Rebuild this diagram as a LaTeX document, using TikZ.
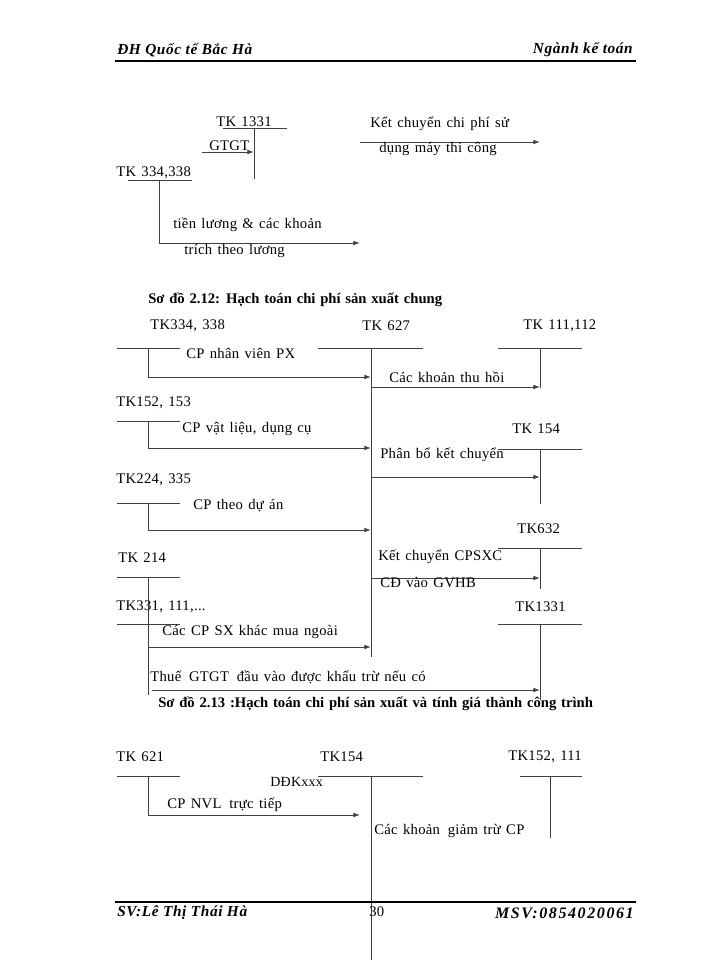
\documentclass[tikz,border=0pt]{standalone}
\usepackage{fontspec}
\setmainfont{Liberation Serif}
\newfontfamily\bodyfont[WordSpace=1.35,LetterSpace=2]{Liberation Serif}
\newfontfamily\titlefont[WordSpace=1.3]{Liberation Serif}
\newfontfamily\headfont[LetterSpace=4]{Liberation Serif}
\newfontfamily\numfont[LetterSpace=10]{Liberation Serif}
\usetikzlibrary{arrows.meta}

\begin{document}
\begin{tikzpicture}[x=0.75pt, y=-0.75pt,
    tx/.style={anchor=west, inner sep=0pt, font=\bodyfont\fontsize{11}{13}\selectfont},
    hd/.style={anchor=west, inner sep=0pt, font=\headfont\fontsize{11.5}{13}\selectfont\bfseries\itshape},
    ttl/.style={anchor=west, inner sep=0pt, font=\titlefont\fontsize{11}{13}\selectfont\bfseries},
    ln/.style={draw=black!75, line width=0.75pt},
    ar/.style={ln, -{Latex[length=5pt,width=3.6pt]}},
    rl/.style={line width=1.5pt}
  ]
  \useasboundingbox (0,0) rectangle (700,960);

  % page header
  \node[hd] (hdl) at (117,50) {ĐH Quốc tế Bắc Hà};
  \node[hd, anchor=east] (hdr) at (633,50) {Ngành kế toán};
  \coordinate (hr1) at (115,61);
  \coordinate (hr2) at (636,61);
  \draw[rl] (hr1) -- (hr2);

  % rest of the previous scheme
  \node[tx] (a1331) at (216,122) {TK 1331};
  \coordinate (a1331l) at (223,128);
  \coordinate (a1331r) at (287,128);
  \coordinate (a1331t) at (254,128);
  \coordinate (a1331b) at (254,179);
  \draw[ln] (a1331l) -- (a1331r);
  \draw[ln] (a1331t) -- (a1331b);
  \coordinate (gt0) at (202,152);
  \draw[ar] (gt0) -- (a1331t |- gt0);
  \node[tx] (gtgt) at (209,146) {GTGT};

  \coordinate (kc0) at (360,142);
  \coordinate (kc1) at (540,142);
  \draw[ar] (kc0) -- (kc1);
  \node[tx] (kc) at (370,124) {Kết chuyển chi phí sử};
  \node[tx] (kcb) at (379,149) {dụng máy thi công};

  \node[tx] (a334) at (116,173) {TK 334,338};
  \coordinate (a334l) at (128,180);
  \coordinate (a334r) at (192,180);
  \coordinate (a334t) at (159,180);
  \coordinate (a334b) at (159,243);
  \coordinate (tl1) at (360,243);
  \draw[ln] (a334l) -- (a334r);
  \draw[ln] (a334t) -- (a334b);
  \draw[ar] (a334b) -- (tl1);
  \node[tx] (tl) at (173,225) {tiền lương \& các khoản};
  \node[tx] (tlb) at (184,251) {trích theo lương};

  % scheme 2.12
  \node[ttl] (s212) at (148,300) {Sơ đồ 2.12: Hạch toán chi phí sản xuất chung};

  \node[tx] (b627) at (362,326) {TK 627};
  \coordinate (b627l) at (318,348);
  \coordinate (b627r) at (423,348);
  \coordinate (b627t) at (371,348);
  \coordinate (b627b) at (371,657);
  \draw[ln] (b627l) -- (b627r);
  \draw[ln] (b627t) -- (b627b);

  \node[tx] (b334) at (150,326) {TK334, 338};
  \coordinate (b334l) at (117,348);
  \coordinate (b334r) at (180,348);
  \coordinate (b334t) at (148,348);
  \coordinate (b334b) at (148,377);
  \draw[ln] (b334l) -- (b334r);
  \draw[ln] (b334t) -- (b334b);
  \draw[ar] (b334b) -- (b627t |- b334b);
  \node[tx] (nvpx) at (186,353) {CP nhân viên PX};

  \node[tx] (b152) at (116,403) {TK152, 153};
  \coordinate (b152l) at (117,421);
  \coordinate (b152r) at (180,421);
  \coordinate (b152t) at (148,421);
  \coordinate (b152b) at (148,448);
  \draw[ln] (b152l) -- (b152r);
  \draw[ln] (b152t) -- (b152b);
  \draw[ar] (b152b) -- (b627t |- b152b);
  \node[tx] (vldc) at (182,429) {CP vật liệu, dụng cụ};

  \node[tx] (b224) at (116,480) {TK224, 335};
  \coordinate (b224l) at (117,503);
  \coordinate (b224r) at (180,503);
  \coordinate (b224t) at (148,503);
  \coordinate (b224b) at (148,530);
  \draw[ln] (b224l) -- (b224r);
  \draw[ln] (b224t) -- (b224b);
  \draw[ar] (b224b) -- (b627t |- b224b);
  \node[tx] (tda) at (193,506) {CP theo dự án};

  \node[tx] (b214) at (118,558) {TK 214};
  \coordinate (b214l) at (117,577);
  \coordinate (b214r) at (180,577);
  \coordinate (b214t) at (148,577);
  \draw[ln] (b214l) -- (b214r);

  \node[tx] (b331) at (116,607) {TK331, 111,...};
  \coordinate (b331l) at (117,624);
  \coordinate (b331r) at (180,624);
  \coordinate (b331a) at (148,647);
  \coordinate (b331b) at (148,695);
  \draw[ln] (b331l) -- (b331r);
  \draw[ln] (b214t) -- (b331b);
  \draw[ar] (b331a) -- (b627t |- b331a);
  \node[tx] (mn) at (162,632) {Các CP SX khác mua ngoài};

  \node[tx] (b111) at (523,326) {TK 111,112};
  \coordinate (b111l) at (498,348);
  \coordinate (b111r) at (582,348);
  \coordinate (b111t) at (540,348);
  \coordinate (b111b) at (540,388);
  \draw[ln] (b111l) -- (b111r);
  \draw[ln] (b111t) -- (b111b);
  \coordinate (th0) at (371,387);
  \draw[ar] (th0) -- (b111t |- th0);
  \node[tx] (th) at (389,377) {Các khoản thu hồi};

  \node[tx] (b154) at (512,429) {TK 154};
  \coordinate (b154l) at (498,449);
  \coordinate (b154r) at (582,449);
  \coordinate (b154t) at (540,449);
  \coordinate (b154b) at (540,504);
  \draw[ln] (b154l) -- (b154r);
  \draw[ln] (b154t) -- (b154b);
  \coordinate (pb0) at (371,477);
  \draw[ar] (pb0) -- (b154t |- pb0);
  \node[tx] (pb) at (380,455) {Phân bổ kết chuyển};

  \node[tx] (b632) at (517,529) {TK632};
  \coordinate (b632l) at (498,548);
  \coordinate (b632r) at (582,548);
  \coordinate (b632t) at (540,548);
  \coordinate (b632b) at (540,589);
  \draw[ln] (b632l) -- (b632r);
  \draw[ln] (b632t) -- (b632b);
  \coordinate (kx0) at (371,578);
  \draw[ar] (kx0) -- (b632t |- kx0);
  \node[tx] (kx) at (378,557) {Kết chuyển CPSXC};
  \node[tx] (kxb) at (380,583) {CĐ vào GVHB};

  \node[tx] (b1331) at (515,607) {TK1331};
  \coordinate (b1331l) at (498,624);
  \coordinate (b1331r) at (582,624);
  \coordinate (b1331t) at (540,624);
  \coordinate (b1331b) at (540,700);
  \draw[ln] (b1331l) -- (b1331r);
  \draw[ln] (b1331t) -- (b1331b);
  \coordinate (vat0) at (152,690);
  \draw[ar] (vat0) -- (b1331t |- vat0);
  \node[tx] (vat) at (150,677) {Thuế\,\ GTGT\,\ đầu vào được khấu trừ nếu có};

  % scheme 2.13
  \node[ttl] (s213) at (158,704) {Sơ đồ 2.13 :Hạch toán chi phí sản xuất và tính giá thành công trình};

  \node[tx] (c621) at (116,757) {TK 621};
  \coordinate (c621l) at (117,776);
  \coordinate (c621r) at (180,776);
  \coordinate (c621t) at (148,776);
  \coordinate (c621b) at (148,815);
  \draw[ln] (c621l) -- (c621r);
  \draw[ln] (c621t) -- (c621b);

  \node[tx] (c154) at (320,757) {TK154};
  \coordinate (c154l) at (318,776);
  \coordinate (c154r) at (423,776);
  \coordinate (c154t) at (371,776);
  \coordinate (c154b) at (371,960);
  \draw[ln] (c154l) -- (c154r);
  \draw[ln] (c154t) -- (c154b);
  \node[tx, font=\bodyfont\fontsize{10.5}{12}\selectfont] (ddk) at (270,782) {DĐKxxx};

  \coordinate (nvl1) at (360,815);
  \draw[ar] (c621b) -- (nvl1);
  \node[tx] (nvl) at (167,805) {CP NVL\,\ trực tiếp};

  \node[tx] (c152) at (508,757) {TK152, 111};
  \coordinate (c152l) at (520,776);
  \coordinate (c152r) at (582,776);
  \coordinate (c152t) at (550,776);
  \coordinate (c152b) at (550,838);
  \draw[ln] (c152l) -- (c152r);
  \draw[ln] (c152t) -- (c152b);
  \node[tx] (gt) at (374,831) {Các khoản\,\ giảm trừ CP};

  % page footer
  \coordinate (fr1) at (115,902);
  \coordinate (fr2) at (636,902);
  \draw[rl] (fr1) -- (fr2);
  \node[hd] (ftl) at (117,913) {SV:Lê Thị Thái Hà};
  \node[tx] (pg) at (369,912) {30};
  \node[hd, anchor=east, font=\numfont\fontsize{12}{14}\selectfont\bfseries\itshape] (ftr) at (634,913) {MSV:0854020061};
\end{tikzpicture}
\end{document}
